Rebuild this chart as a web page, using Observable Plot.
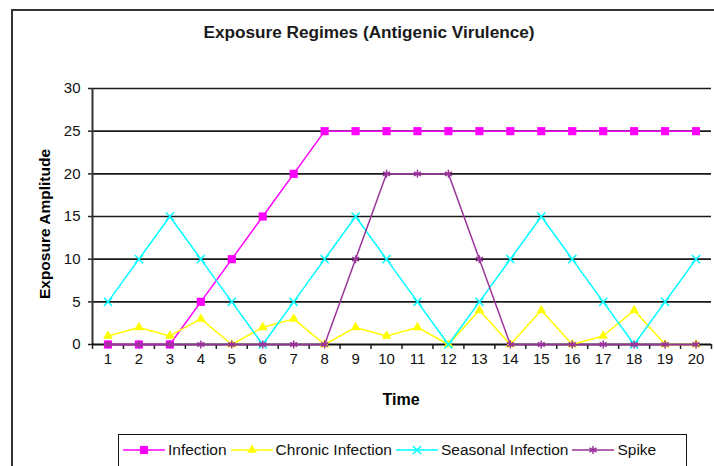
<!DOCTYPE html>
<html>
<head>
<meta charset="utf-8">
<script src="https://cdn.jsdelivr.net/npm/d3@7"></script>
<script src="https://cdn.jsdelivr.net/npm/@observablehq/plot@0.6"></script>
<style>
  body { margin: 0; background: #fff; }
  #wrap { position: relative; width: 714px; height: 466px; overflow: hidden; background: #fff; font-family: "Liberation Sans", Arial, sans-serif; }
  #border { position: absolute; left: 11px; top: 9px; width: 760px; height: 500px; border: 2px solid #333; box-sizing: border-box; }
  #title { position: absolute; left: 369px; top: 22px; transform: translateX(-50%); font-size: 17.2px; font-weight: bold; color: #1a1a1a; white-space: nowrap; }
  #ylab { position: absolute; left: 45px; top: 224px; transform: translate(-50%, -50%) rotate(-90deg); font-size: 15.5px; font-weight: bold; color: #000; white-space: nowrap; }
  #xlab { position: absolute; left: 401px; top: 391px; transform: translateX(-50%); font-size: 16px; font-weight: bold; color: #000; white-space: nowrap; }
  #plot { position: absolute; left: 0; top: 0; }
  #legend { position: absolute; left: 118px; top: 434px; width: 569px; height: 44px; border: 1.5px solid #111; box-sizing: border-box; display: flex; align-items: flex-start; padding-top: 6px; padding-left: 4px; font-size: 15.5px; color: #111; }
  .item { display: flex; align-items: center; margin-right: 4px; white-space: nowrap; }
  .item svg { margin-right: 3px; }
</style>
</head>
<body>
<div id="wrap">
  <div id="border"></div>
  <div id="plot"></div>
  <div id="title">Exposure Regimes (Antigenic Virulence)</div>
  <div id="ylab">Exposure Amplitude</div>
  <div id="xlab">Time</div>
  <div id="legend"></div>
</div>
<script>
const time = d3.range(1, 21);
const infection = [0, 0, 0, 5, 10, 15, 20, 25, 25, 25, 25, 25, 25, 25, 25, 25, 25, 25, 25, 25];
const chronic   = [1, 2, 1, 3, 0, 2, 3, 0, 2, 1, 2, 0, 4, 0, 4, 0, 1, 4, 0, 0];
const seasonal  = [5, 10, 15, 10, 5, 0, 5, 10, 15, 10, 5, 0, 5, 10, 15, 10, 5, 0, 5, 10];
const spike     = [0, 0, 0, 0, 0, 0, 0, 0, 10, 20, 20, 20, 10, 0, 0, 0, 0, 0, 0, 0];
const yTicks = [0, 5, 10, 15, 20, 25, 30];
const xBoundaries = d3.range(0.5, 21, 1);

const seriesDefs = [
  {name: "Infection", values: infection, color: "#FF00FF", symbol: "square", r: 4.6, filled: true},
  {name: "Chronic Infection", values: chronic, color: "#FFFF00", symbol: "triangle", r: 3.6, filled: true},
  {name: "Seasonal Infection", values: seasonal, color: "#00FFFF", symbol: "times", r: 3.8, filled: false},
  {name: "Spike", values: spike, color: "#993399", symbol: "asterisk", r: 3.8, filled: false}
];

const marks = [
  Plot.ruleY(yTicks.filter(d => d > 0), {stroke: "#1a1a1a", strokeWidth: 1.6}),
  Plot.axisY({ticks: yTicks, tickSize: 4, tickPadding: 8, fontSize: 15, label: null, stroke: "#222", strokeWidth: 1.5}),
  Plot.axisX({ticks: xBoundaries, tickSize: 5, tickFormat: () => "", label: null, stroke: "#222", strokeWidth: 1.5}),
  Plot.axisX({ticks: time, tickSize: 0, tickPadding: 9, fontSize: 15, label: null, tickFormat: d3.format("d")}),
  Plot.ruleX([0.5], {stroke: "#333", strokeWidth: 2}),
  Plot.ruleY([0], {stroke: "#111", strokeWidth: 1.8})
];

for (const s of seriesDefs) {
  const rows = time.map((t, i) => ({t, v: s.values[i]}));
  marks.push(Plot.line(rows, {x: "t", y: "v", stroke: s.color, strokeWidth: 1.5}));
  marks.push(Plot.dot(rows, s.filled
    ? {x: "t", y: "v", symbol: s.symbol, r: s.r, fill: s.color, stroke: "none"}
    : {x: "t", y: "v", symbol: s.symbol, r: s.r, stroke: s.color, strokeWidth: 1.5, fill: "none"}));
}

const chart = Plot.plot({
  width: 714,
  height: 430,
  marginTop: 88,
  marginBottom: 86,
  marginLeft: 92,
  marginRight: 3,
  style: {fontFamily: "'Liberation Sans', Arial, sans-serif", color: "#111", background: "transparent", overflow: "visible"},
  x: {domain: [0.5, 20.5]},
  y: {domain: [0, 30]},
  marks
});
document.getElementById("plot").appendChild(chart);

// Legend
const legend = d3.select("#legend");
const symbolMap = {square: d3.symbolSquare, triangle: d3.symbolTriangle, times: d3.symbolTimes, asterisk: d3.symbolAsterisk};
for (const s of seriesDefs) {
  const item = legend.append("div").attr("class", "item");
  const svg = item.append("svg").attr("width", 42).attr("height", 18);
  svg.append("line").attr("x1", 0).attr("x2", 42).attr("y1", 9).attr("y2", 9).attr("stroke", s.color).attr("stroke-width", 1.5);
  const path = d3.symbol(symbolMap[s.symbol], Math.PI * s.r * s.r)();
  svg.append("path").attr("d", path).attr("transform", "translate(21,9)")
    .attr("fill", s.filled ? s.color : "none")
    .attr("stroke", s.filled ? "none" : s.color)
    .attr("stroke-width", 1.5);
  item.append("span").text(s.name);
}
</script>
</body>
</html>
